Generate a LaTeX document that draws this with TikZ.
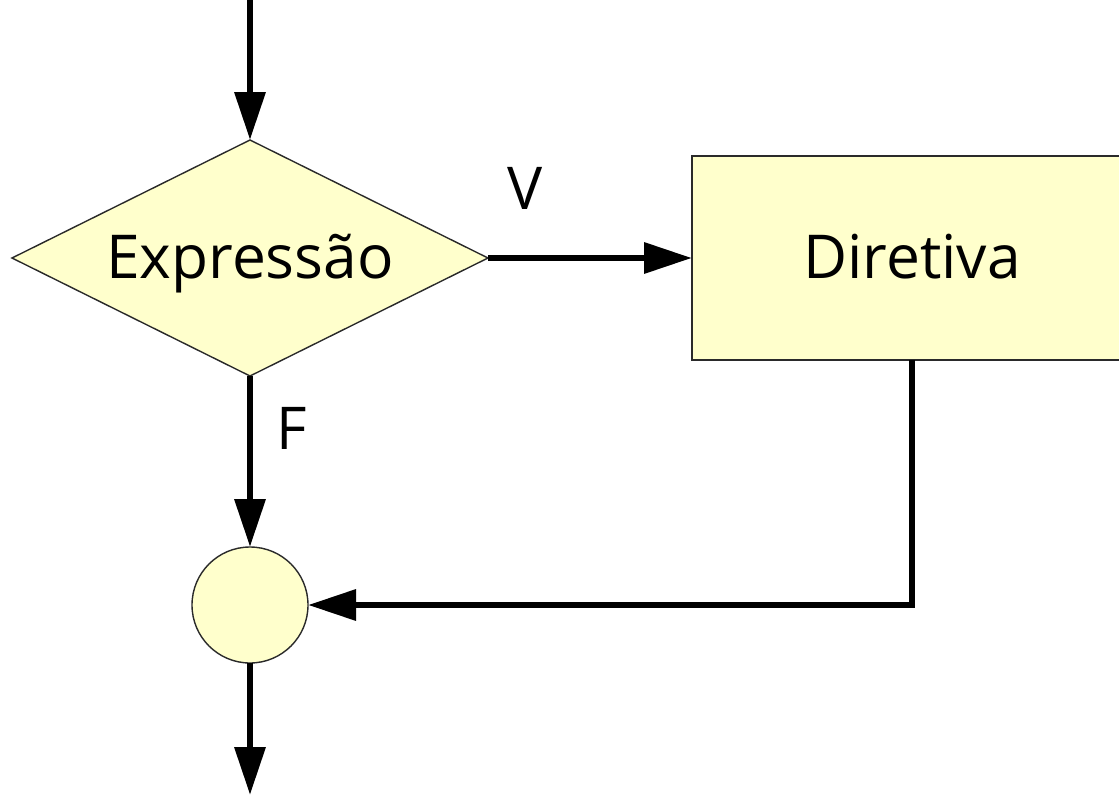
\documentclass[tikz,border=0pt]{standalone}
\usepackage{fontspec}
\setmainfont{Open Sans}
\usetikzlibrary{shapes.geometric,arrows.meta}
\definecolor{boxfill}{HTML}{FFFFCC}
\definecolor{boxline}{HTML}{2A2A2A}
\begin{document}
\begin{tikzpicture}[x=1pt,y=-1pt,
  shapebox/.style={draw=boxline,fill=boxfill,line width=1.4pt,inner sep=0pt,outer sep=0pt,
    font=\fontsize{60.5}{72}\selectfont,text height=40pt,text depth=0pt},
  flow/.style={line width=6.5pt,-{Triangle[length=48pt,width=30pt]}},
  tag/.style={font=\fontsize{59}{70}\selectfont,inner sep=0pt}]
\useasboundingbox (0,0) rectangle (1119,795);
% decision, action and junction
\node[shapebox,diamond,aspect=2.017,minimum width=476pt,minimum height=236pt] (cond) at (250,258) {Expressão};
\node[shapebox,rectangle,minimum width=440pt,minimum height=204pt] (act) at (912,258) {Diretiva};
\node[shapebox,circle,minimum size=116pt] (join) at (250,605) {};
% free ends of the entry and exit flows
\coordinate (entry) at (250,0);
\coordinate (exit) at (250,795);
% flows
\draw[flow] (entry) -- (cond.north);
\draw[flow] (cond.east) -- (act.west);
\draw[flow] (cond.south) -- (join.north);
\draw[flow] (act.south) |- (join.east);
\draw[flow] (join.south) -- (exit);
% branch labels
\node[tag] (ltrue) at (525,188) {V};
\node[tag] (lfalse) at (292,428) {F};
\end{tikzpicture}
\end{document}
